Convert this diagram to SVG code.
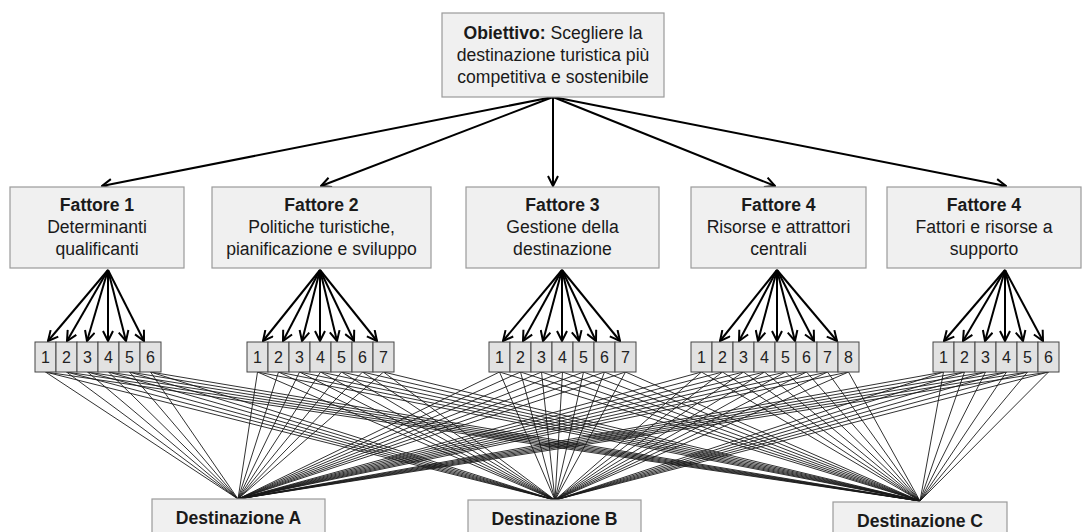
<svg xmlns="http://www.w3.org/2000/svg" width="1091" height="532" viewBox="0 0 1091 532">
<style>
.box{fill:#f0f0f0;stroke:#9a9a9a;stroke-width:1.2}
.nb{fill:#e2e2e2;stroke:#444;stroke-width:1}
.t{font-family:"Liberation Sans",Arial,sans-serif;font-size:17.6px;fill:#1a1a1a;text-anchor:middle}
.b{font-weight:bold}
.n{font-family:"Liberation Sans",Arial,sans-serif;font-size:16px;fill:#222;text-anchor:middle}
.arr{stroke:#000;stroke-width:2;fill:none;marker-end:url(#ah)}
.thin{stroke:#1a1a1a;stroke-width:0.9;fill:none}
</style>
<defs>
<marker id="ah" viewBox="0 0 12 12" refX="11" refY="6" markerWidth="12" markerHeight="12" markerUnits="userSpaceOnUse" orient="auto">
<path d="M1,1 L11,6 L1,11" fill="none" stroke="#000" stroke-width="2"/>
</marker>
</defs>
<rect width="1091" height="532" fill="#fff"/>

<g id="connectors">
<g id="top-arrows">
<line class="arr" x1="553" y1="97" x2="102" y2="186"/>
<line class="arr" x1="553" y1="97" x2="321" y2="186"/>
<line class="arr" x1="553" y1="97" x2="553" y2="186"/>
<line class="arr" x1="553" y1="97" x2="775" y2="186"/>
<line class="arr" x1="553" y1="97" x2="1006" y2="186"/>
</g>
<g id="fan-arrows">
<line class="arr" x1="108" y1="270" x2="48" y2="341"/>
<line class="arr" x1="108" y1="270" x2="67" y2="341"/>
<line class="arr" x1="108" y1="270" x2="87" y2="341"/>
<line class="arr" x1="108" y1="270" x2="108" y2="341"/>
<line class="arr" x1="108" y1="270" x2="126" y2="341"/>
<line class="arr" x1="108" y1="270" x2="144" y2="341"/>

<line class="arr" x1="320" y1="270" x2="263" y2="341"/>
<line class="arr" x1="320" y1="270" x2="283" y2="341"/>
<line class="arr" x1="320" y1="270" x2="302" y2="341"/>
<line class="arr" x1="320" y1="270" x2="320" y2="341"/>
<line class="arr" x1="320" y1="270" x2="337" y2="341"/>
<line class="arr" x1="320" y1="270" x2="354" y2="341"/>
<line class="arr" x1="320" y1="270" x2="377" y2="341"/>

<line class="arr" x1="562" y1="270" x2="503" y2="341"/>
<line class="arr" x1="562" y1="270" x2="523" y2="341"/>
<line class="arr" x1="562" y1="270" x2="543" y2="341"/>
<line class="arr" x1="562" y1="270" x2="562" y2="341"/>
<line class="arr" x1="562" y1="270" x2="579" y2="341"/>
<line class="arr" x1="562" y1="270" x2="596" y2="341"/>
<line class="arr" x1="562" y1="270" x2="620" y2="341"/>

<line class="arr" x1="777" y1="270" x2="720" y2="341"/>
<line class="arr" x1="777" y1="270" x2="739" y2="341"/>
<line class="arr" x1="777" y1="270" x2="758" y2="341"/>
<line class="arr" x1="777" y1="270" x2="777" y2="341"/>
<line class="arr" x1="777" y1="270" x2="795" y2="341"/>
<line class="arr" x1="777" y1="270" x2="814" y2="341"/>
<line class="arr" x1="777" y1="270" x2="837" y2="341"/>

<line class="arr" x1="1005" y1="270" x2="944" y2="341"/>
<line class="arr" x1="1005" y1="270" x2="963" y2="341"/>
<line class="arr" x1="1005" y1="270" x2="985" y2="341"/>
<line class="arr" x1="1005" y1="270" x2="1005" y2="341"/>
<line class="arr" x1="1005" y1="270" x2="1023" y2="341"/>
<line class="arr" x1="1005" y1="270" x2="1043" y2="341"/>
</g>
<g id="dest-lines">
<path class="thin" d="M45.5,372L238,499M66.5,372L238,499M87.5,372L238,499M108.5,372L238,499M129.5,372L238,499M150.5,372L238,499M257.5,372L238,499M278.5,372L238,499M299.5,372L238,499M320.5,372L238,499M341.5,372L238,499M362.5,372L238,499M383.5,372L238,499M499.5,372L238,499M520.5,372L238,499M541.5,372L238,499M562.5,372L238,499M583.5,372L238,499M604.5,372L238,499M625.5,372L238,499M701.5,372L238,499M722.5,372L238,499M743.5,372L238,499M764.5,372L238,499M785.5,372L238,499M806.5,372L238,499M827.5,372L238,499M848.5,372L238,499M943.5,372L238,499M964.5,372L238,499M985.5,372L238,499M1006.5,372L238,499M1027.5,372L238,499M1048.5,372L238,499"/>
<path class="thin" d="M45.5,372L555,500M66.5,372L555,500M87.5,372L555,500M108.5,372L555,500M129.5,372L555,500M150.5,372L555,500M257.5,372L555,500M278.5,372L555,500M299.5,372L555,500M320.5,372L555,500M341.5,372L555,500M362.5,372L555,500M383.5,372L555,500M499.5,372L555,500M520.5,372L555,500M541.5,372L555,500M562.5,372L555,500M583.5,372L555,500M604.5,372L555,500M625.5,372L555,500M701.5,372L555,500M722.5,372L555,500M743.5,372L555,500M764.5,372L555,500M785.5,372L555,500M806.5,372L555,500M827.5,372L555,500M848.5,372L555,500M943.5,372L555,500M964.5,372L555,500M985.5,372L555,500M1006.5,372L555,500M1027.5,372L555,500M1048.5,372L555,500"/>
<path class="thin" d="M45.5,372L920,501M66.5,372L920,501M87.5,372L920,501M108.5,372L920,501M129.5,372L920,501M150.5,372L920,501M257.5,372L920,501M278.5,372L920,501M299.5,372L920,501M320.5,372L920,501M341.5,372L920,501M362.5,372L920,501M383.5,372L920,501M499.5,372L920,501M520.5,372L920,501M541.5,372L920,501M562.5,372L920,501M583.5,372L920,501M604.5,372L920,501M625.5,372L920,501M701.5,372L920,501M722.5,372L920,501M743.5,372L920,501M764.5,372L920,501M785.5,372L920,501M806.5,372L920,501M827.5,372L920,501M848.5,372L920,501M943.5,372L920,501M964.5,372L920,501M985.5,372L920,501M1006.5,372L920,501M1027.5,372L920,501M1048.5,372L920,501"/>
</g>
</g>

<g id="goal">
<rect class="box" x="442" y="13" width="222" height="84"/>
<text class="t" x="553" y="39"><tspan class="b">Obiettivo:</tspan> Scegliere la</text>
<text class="t" x="553" y="61">destinazione turistica più</text>
<text class="t" x="553" y="83">competitiva e sostenibile</text>
</g>

<g id="fattore1">
<rect class="box" x="10" y="187" width="174" height="81"/>
<text class="t b" x="97" y="211">Fattore 1</text>
<text class="t" x="97" y="233">Determinanti</text>
<text class="t" x="97" y="255">qualificanti</text>
</g>
<g id="fattore2">
<rect class="box" x="212" y="187" width="219" height="81"/>
<text class="t b" x="321.5" y="211">Fattore 2</text>
<text class="t" x="321.5" y="233">Politiche turistiche,</text>
<text class="t" x="321.5" y="255">pianificazione e sviluppo</text>
</g>
<g id="fattore3">
<rect class="box" x="466" y="187" width="193" height="81"/>
<text class="t b" x="562.5" y="211">Fattore 3</text>
<text class="t" x="562.5" y="233">Gestione della</text>
<text class="t" x="562.5" y="255">destinazione</text>
</g>
<g id="fattore4">
<rect class="box" x="691" y="187" width="175" height="81"/>
<text class="t b" x="778.5" y="211">Fattore 4</text>
<text class="t" x="778.5" y="233">Risorse e attrattori</text>
<text class="t" x="778.5" y="255">centrali</text>
</g>
<g id="fattore4b">
<rect class="box" x="887" y="187" width="194" height="81"/>
<text class="t b" x="984" y="211">Fattore 4</text>
<text class="t" x="984" y="233">Fattori e risorse a</text>
<text class="t" x="984" y="255">supporto</text>
</g>

<g id="sub1">
<rect class="nb" x="35" y="342" width="21" height="30"/><text class="n" x="45.5" y="363">1</text>
<rect class="nb" x="56" y="342" width="21" height="30"/><text class="n" x="66.5" y="363">2</text>
<rect class="nb" x="77" y="342" width="21" height="30"/><text class="n" x="87.5" y="363">3</text>
<rect class="nb" x="98" y="342" width="21" height="30"/><text class="n" x="108.5" y="363">4</text>
<rect class="nb" x="119" y="342" width="21" height="30"/><text class="n" x="129.5" y="363">5</text>
<rect class="nb" x="140" y="342" width="21" height="30"/><text class="n" x="150.5" y="363">6</text>
</g>
<g id="sub2">
<rect class="nb" x="247" y="342" width="21" height="30"/><text class="n" x="257.5" y="363">1</text>
<rect class="nb" x="268" y="342" width="21" height="30"/><text class="n" x="278.5" y="363">2</text>
<rect class="nb" x="289" y="342" width="21" height="30"/><text class="n" x="299.5" y="363">3</text>
<rect class="nb" x="310" y="342" width="21" height="30"/><text class="n" x="320.5" y="363">4</text>
<rect class="nb" x="331" y="342" width="21" height="30"/><text class="n" x="341.5" y="363">5</text>
<rect class="nb" x="352" y="342" width="21" height="30"/><text class="n" x="362.5" y="363">6</text>
<rect class="nb" x="373" y="342" width="21" height="30"/><text class="n" x="383.5" y="363">7</text>
</g>
<g id="sub3">
<rect class="nb" x="489" y="342" width="21" height="30"/><text class="n" x="499.5" y="363">1</text>
<rect class="nb" x="510" y="342" width="21" height="30"/><text class="n" x="520.5" y="363">2</text>
<rect class="nb" x="531" y="342" width="21" height="30"/><text class="n" x="541.5" y="363">3</text>
<rect class="nb" x="552" y="342" width="21" height="30"/><text class="n" x="562.5" y="363">4</text>
<rect class="nb" x="573" y="342" width="21" height="30"/><text class="n" x="583.5" y="363">5</text>
<rect class="nb" x="594" y="342" width="21" height="30"/><text class="n" x="604.5" y="363">6</text>
<rect class="nb" x="615" y="342" width="21" height="30"/><text class="n" x="625.5" y="363">7</text>
</g>
<g id="sub4">
<rect class="nb" x="691" y="342" width="21" height="30"/><text class="n" x="701.5" y="363">1</text>
<rect class="nb" x="712" y="342" width="21" height="30"/><text class="n" x="722.5" y="363">2</text>
<rect class="nb" x="733" y="342" width="21" height="30"/><text class="n" x="743.5" y="363">3</text>
<rect class="nb" x="754" y="342" width="21" height="30"/><text class="n" x="764.5" y="363">4</text>
<rect class="nb" x="775" y="342" width="21" height="30"/><text class="n" x="785.5" y="363">5</text>
<rect class="nb" x="796" y="342" width="21" height="30"/><text class="n" x="806.5" y="363">6</text>
<rect class="nb" x="817" y="342" width="21" height="30"/><text class="n" x="827.5" y="363">7</text>
<rect class="nb" x="838" y="342" width="21" height="30"/><text class="n" x="848.5" y="363">8</text>
</g>
<g id="sub5">
<rect class="nb" x="933" y="342" width="21" height="30"/><text class="n" x="943.5" y="363">1</text>
<rect class="nb" x="954" y="342" width="21" height="30"/><text class="n" x="964.5" y="363">2</text>
<rect class="nb" x="975" y="342" width="21" height="30"/><text class="n" x="985.5" y="363">3</text>
<rect class="nb" x="996" y="342" width="21" height="30"/><text class="n" x="1006.5" y="363">4</text>
<rect class="nb" x="1017" y="342" width="21" height="30"/><text class="n" x="1027.5" y="363">5</text>
<rect class="nb" x="1038" y="342" width="21" height="30"/><text class="n" x="1048.5" y="363">6</text>
</g>

<g id="destA">
<rect class="box" x="152" y="499" width="173" height="45"/>
<text class="t b" x="238.5" y="524">Destinazione A</text>
</g>
<g id="destB">
<rect class="box" x="468" y="500" width="173" height="45"/>
<text class="t b" x="554.5" y="525">Destinazione B</text>
</g>
<g id="destC">
<rect class="box" x="833" y="502" width="174" height="45"/>
<text class="t b" x="920" y="527">Destinazione C</text>
</g>
</svg>
